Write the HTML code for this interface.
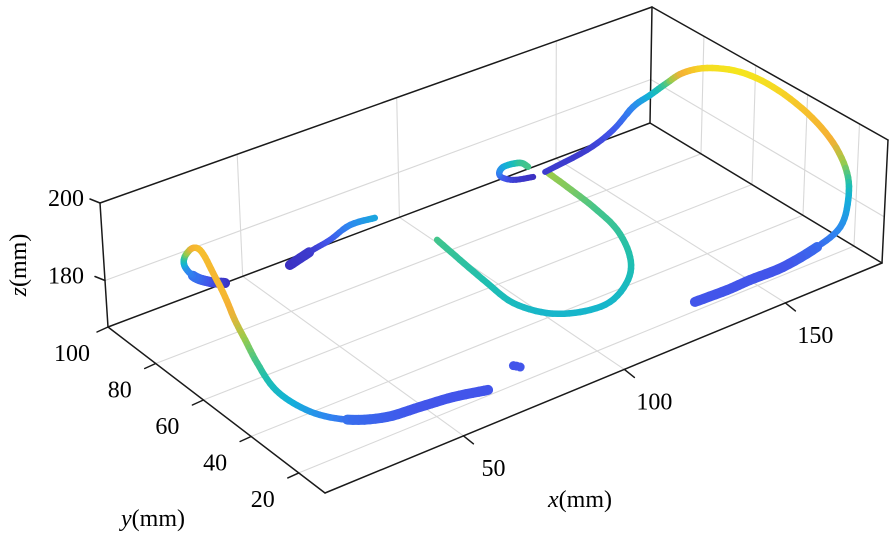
<!DOCTYPE html>
<html><head><meta charset="utf-8"><style>
html,body{margin:0;padding:0;background:#fff;}
svg{display:block;font-family:"Liberation Serif",serif;}
</style></head><body>
<svg id="chart" width="896" height="535" viewBox="0 0 896 535" xmlns="http://www.w3.org/2000/svg">
<g id="grid"></g>
<g id="box"></g>
<g id="ticks"></g>
<g id="data"></g>
<text x="580" y="507" font-size="24" text-anchor="middle"><tspan font-style="italic">x</tspan>(mm)</text>
<text x="153" y="526" font-size="24" text-anchor="middle"><tspan font-style="italic">y</tspan>(mm)</text>
<text transform="translate(26,265) rotate(-90)" font-size="24" text-anchor="middle"><tspan font-style="italic">z</tspan>(mm)</text>
</svg>
<script>
// axis ranges & ticks
const xTicks = [50, 100, 150];
const yTicks = [20, 40, 60, 80, 100];
const zTicks = [180, 200];
// trajectory segments (x, y, z in mm)
const s1x = [41.1,36.3,31.5,29.1,24.6,19.5,18.2,16.0,12.1,10.0,10.9,10.3,10.2,12.1,17.4,25.8,34.5,44.8,54.1,63.0];
const s1y = [97.2,97.1,96.9,97.8,92.1,82.2,77.0,69.6,59.7,53.1,50.1,44.5,38.0,32.4,28.5,26.1,23.6,23.7,22.4,19.9];
const s1z = [169,171,174,177,184,193,195,194,194,192,188,185,182,180,177,174,173,172,172,172];
const s2x = [58.9,66.5,70.6,74.5,78.3];
const s2y = [94.2,94.8,93.2,90.2,85.2];
const s2z = [169,170,172,176,179];
const s3x = [74.5,75.0,75.5];
const s3y = [24.6,24.0,23.2];
const s3z = [172,172,172];
const s4x = [79.0,79.4,79.8,80.8,86.0,93.0,101.6,110.1,115.5,119.0,119.2,117.2,116.0,131.2,125.3,120.7,118.6,117.0,116.6,133.9,148.2,156.6,162.7,165.2,166.7,164.5,165.6,170.2,173.9,177.0,176.4,178.4,177.6,171.9,165.0,154.9,144.8,137.5,127.9];
const s4y = [61.1,52.4,42.0,32.9,26.0,21.7,20.9,24.6,30.8,40.5,50.4,58.2,64.4,90.0,90.5,89.8,85.8,77.0,73.2,88.7,90.3,90.8,90.6,87.0,82.2,72.9,64.6,57.3,48.9,39.2,28.0,25.0,23.5,19.3,19.7,20.3,20.5,20.3,20.8];
const s4z = [185,184,183,182,181,181,181,182,183,184,185,187,188,169,170,173,178,184,185,170,170,172,176,180,185,193,198,199,198,195,193,186,180,177,174,172,172,172,172];

const XMIN=7,XMAX=180,YMIN=9,YMAX=100,ZMIN=168,ZMAX=200;
const A=[325,493],B=[882,263],C=[650,123],D=[108,327];
const A2=[321,367],B2=[888,140],C2=[652,7],D2=[100,203];
function lerp(p,q,t){return [p[0]+(q[0]-p[0])*t,p[1]+(q[1]-p[1])*t];}
function boxP(x,y,z){
  const u=(x-XMIN)/(XMAX-XMIN),v=(y-YMIN)/(YMAX-YMIN),w=(z-ZMIN)/(ZMAX-ZMIN);
  const f=lerp(lerp(A,B,u),lerp(D,C,u),v);
  const t=lerp(lerp(A2,B2,u),lerp(D2,C2,u),v);
  return lerp(f,t,w);
}
// data projection (affine view transform)
function project(x,y,z){
  return [325+(x-7)*3.22-(y-13)*2.49, 493-(x-7)*1.33-(y-13)*1.91-(z-168)*3.85];
}
const NS="http://www.w3.org/2000/svg";
function line(g,p,q,stroke,w){
  const l=document.createElementNS(NS,'line');
  l.setAttribute('x1',p[0].toFixed(1));l.setAttribute('y1',p[1].toFixed(1));
  l.setAttribute('x2',q[0].toFixed(1));l.setAttribute('y2',q[1].toFixed(1));
  l.setAttribute('stroke',stroke);l.setAttribute('stroke-width',w);
  l.setAttribute('stroke-linecap','round');
  g.appendChild(l);return l;
}
const grid=document.getElementById('grid');
const box=document.getElementById('box');
const ticks=document.getElementById('ticks');
const GC='#d8d8d8';
xTicks.forEach(v=>{
  let l=line(grid,boxP(v,YMIN,ZMIN),boxP(v,YMAX,ZMIN),GC,1.1);
  
  
  l=line(grid,boxP(v,YMAX,ZMIN),boxP(v,YMAX,ZMAX),GC,1.1);
  
  
});
yTicks.forEach(v=>{
  let l=line(grid,boxP(XMIN,v,ZMIN),boxP(XMAX,v,ZMIN),GC,1.1);
  
  
  l=line(grid,boxP(XMAX,v,ZMIN),boxP(XMAX,v,ZMAX),GC,1.1);
  
  
});
zTicks.forEach(v=>{
  let l=line(grid,boxP(XMIN,YMAX,v),boxP(XMAX,YMAX,v),GC,1.1);
  
  
  l=line(grid,boxP(XMAX,YMIN,v),boxP(XMAX,YMAX,v),GC,1.1);
  
  
});
const edges=[[A,B],[A,D],[D,C],[C,B],[D,D2],[C,C2],[B,B2],[D2,C2],[C2,B2]];
edges.forEach(e=>{
  const l=line(box,e[0],e[1],'#1a1a1a',1.5);
  
  
});
function txt(x,y,s,anchor){
  const t=document.createElementNS(NS,'text');
  t.setAttribute('x',x);t.setAttribute('y',y);t.setAttribute('font-size','24');
  t.setAttribute('text-anchor',anchor);t.textContent=s;ticks.appendChild(t);return t;
}
xTicks.forEach(v=>{
  const p=boxP(v,YMIN,ZMIN);
  const l=line(ticks,p,[p[0]+10,p[1]+8],'#1a1a1a',1.5);
  
  
  const t=txt(p[0]+30,p[1]+40,String(v),'middle');
  
  
});
yTicks.forEach(v=>{
  const p=boxP(XMIN,v,ZMIN);
  const l=line(ticks,p,[p[0]-11,p[1]+5],'#1a1a1a',1.5);
  
  
  const t=txt(p[0]-36,p[1]+34,String(v),'middle');
  
  
});
zTicks.forEach(v=>{
  const p=boxP(XMIN,YMAX,v);
  const l=line(ticks,p,[p[0]-10,p[1]-4],'#1a1a1a',1.5);
  
  
  const t=txt(84,p[1]+3,String(v),'end');
  
  
});
// colormap by z
const stops=[[169,[59,47,192]],[172,[66,85,234]],[176,[47,134,240]],[180,[19,177,216]],[183,[31,191,176]],[185,[69,197,138]],[188,[156,203,74]],[193,[245,176,53]],[196,[246,200,40]],[199,[245,230,30]]];
function cmap(z){
  if(z<=stops[0][0])return 'rgb('+stops[0][1].join(',')+')';
  for(let i=1;i<stops.length;i++){
    if(z<=stops[i][0]){
      const t=(z-stops[i-1][0])/(stops[i][0]-stops[i-1][0]);
      const a=stops[i-1][1],b=stops[i][1];
      return 'rgb('+a.map((c,k)=>Math.round(c+(b[k]-c)*t)).join(',')+')';
    }
  }
  return 'rgb('+stops[stops.length-1][1].join(',')+')';
}
const dataG=document.getElementById('data');
function cr(p0,p1,p2,p3,t){
  const t2=t*t,t3=t2*t;
  return [0,1].map(k=>0.5*((2*p1[k])+(-p0[k]+p2[k])*t+(2*p0[k]-5*p1[k]+4*p2[k]-p3[k])*t2+(-p0[k]+3*p1[k]-3*p2[k]+p3[k])*t3));
}
function drawSeg(xs,ys,zs,name,jumps){
  const g=document.createElementNS(NS,'g');
  
  
  dataG.appendChild(g);
  if(name==='blob'){
    xs.forEach((x,i)=>{
      const p=project(x,ys[i],zs[i]);
      const c=document.createElementNS(NS,'circle');
      c.setAttribute('cx',p[0]);c.setAttribute('cy',p[1]);c.setAttribute('r',4.5);
      c.setAttribute('fill',cmap(zs[i]));
      
      
      g.appendChild(c);
    });
    return;
  }
  const P=xs.map((x,i)=>project(x,ys[i],zs[i]));
  const n=P.length;
  for(let i=0;i<n-1;i++){
    if(jumps.indexOf(i)>=0)continue;
    const a=(i>0&&jumps.indexOf(i-1)<0)?P[i-1]:P[i];
    const d=(i+2<n&&jumps.indexOf(i+1)<0)?P[i+2]:P[i+1];
    const N=6;
    let prev=P[i];
    for(let k=1;k<=N;k++){
      const t=k/N;
      const q=cr(a,P[i],P[i+1],d,t);
      const zm=zs[i]+(zs[i+1]-zs[i])*(t-0.5/N);
      const w=zm<174.5?(q[1]>250?10:6):6.5;
      const l=line(g,prev,q,cmap(zm),w);
      
      
      prev=q;
    }
  }
}
drawSeg(s1x,s1y,s1z,'stroke-left-loop',[]);
drawSeg(s2x,s2y,s2z,'stroke-middle-short',[]);
drawSeg(s3x,s3y,s3z,'blob',[]);
drawSeg(s4x,s4y,s4z,'stroke-hook-and-arc',[12,18]);
</script>
</body></html>
